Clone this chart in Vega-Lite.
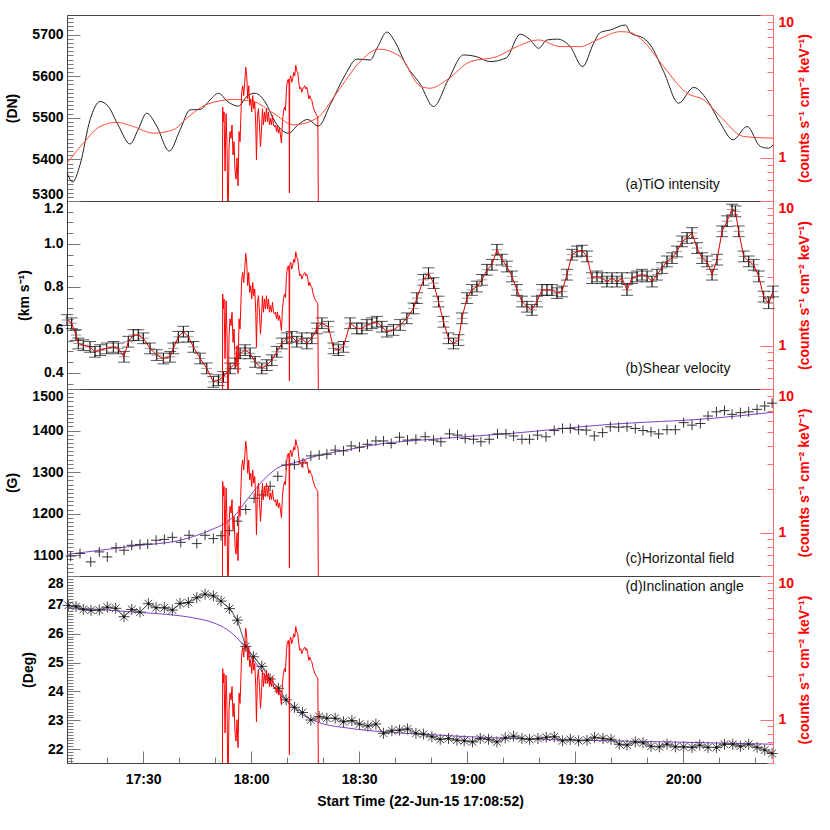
{
"$schema": "https://vega.github.io/schema/vega-lite/v6.json",
"background": "white",
"padding": {"left": 5, "top": 10, "right": 5, "bottom": 5},
"spacing": 0,
"bounds": "flush",
"config": {"font": "Liberation Sans", "view": {"stroke": "#444", "strokeWidth": 1}, "axis": {"grid": false, "labelFont": "Liberation Sans", "titleFont": "Liberation Sans"}},
"datasets": {
"tio": [{"t":8.87,"v":5367},{"t":10.45,"v":5346},{"t":12.48,"v":5387},{"t":15.26,"v":5495},{"t":18.03,"v":5539},{"t":20.26,"v":5528},{"t":23.03,"v":5483},{"t":26.37,"v":5437},{"t":28.59,"v":5471},{"t":31.0,"v":5511},{"t":33.59,"v":5483},{"t":37.28,"v":5420},{"t":40.26,"v":5471},{"t":43.03,"v":5519},{"t":45.81,"v":5520},{"t":48.59,"v":5543},{"t":50.9,"v":5559},{"t":53.59,"v":5538},{"t":56.45,"v":5528},{"t":58.87,"v":5552},{"t":61.09,"v":5559},{"t":63.87,"v":5538},{"t":66.65,"v":5490},{"t":70.34,"v":5463},{"t":73.03,"v":5483},{"t":75.62,"v":5496},{"t":78.67,"v":5480},{"t":81.92,"v":5531},{"t":86.09,"v":5603},{"t":89.34,"v":5641},{"t":93.03,"v":5639},{"t":94.98,"v":5668},{"t":97.67,"v":5706},{"t":99.98,"v":5682},{"t":102.76,"v":5631},{"t":106.92,"v":5581},{"t":110.62,"v":5527},{"t":114.7,"v":5591},{"t":118.95,"v":5651},{"t":122.48,"v":5647},{"t":126.37,"v":5635},{"t":130.81,"v":5644},{"t":134.7,"v":5701},{"t":137.48,"v":5687},{"t":139.8,"v":5667},{"t":142.12,"v":5687},{"t":144.98,"v":5689},{"t":148.59,"v":5671},{"t":152.0,"v":5623},{"t":155.06,"v":5679},{"t":156.92,"v":5705},{"t":159.7,"v":5711},{"t":163.87,"v":5723},{"t":165.26,"v":5704},{"t":168.95,"v":5691},{"t":170.81,"v":5675},{"t":174.51,"v":5611},{"t":178.67,"v":5535},{"t":182.84,"v":5573},{"t":186.56,"v":5543},{"t":190.26,"v":5487},{"t":193.78,"v":5447},{"t":197.67,"v":5479},{"t":201.37,"v":5431},{"t":203.67,"v":5427},{"t":204.87,"v":5435}],
"tios": [{"t":8.87,"v":5391},{"t":13.4,"v":5439},{"t":18.03,"v":5479},{"t":22.67,"v":5489},{"t":27.28,"v":5479},{"t":32.84,"v":5463},{"t":38.4,"v":5471},{"t":42.12,"v":5499},{"t":47.67,"v":5532},{"t":55.06,"v":5544},{"t":60.62,"v":5539},{"t":66.17,"v":5511},{"t":71.73,"v":5483},{"t":78.23,"v":5499},{"t":83.78,"v":5560},{"t":90.26,"v":5635},{"t":95.34,"v":5665},{"t":101.37,"v":5647},{"t":106.92,"v":5576},{"t":109.7,"v":5571},{"t":114.34,"v":5591},{"t":120.81,"v":5635},{"t":128.23,"v":5647},{"t":133.78,"v":5671},{"t":139.78,"v":5687},{"t":145.81,"v":5671},{"t":151.37,"v":5671},{"t":156.0,"v":5687},{"t":162.48,"v":5707},{"t":165.26,"v":5705},{"t":168.95,"v":5683},{"t":174.51,"v":5623},{"t":181.0,"v":5559},{"t":185.62,"v":5543},{"t":190.26,"v":5503},{"t":196.73,"v":5455},{"t":204.87,"v":5451}],
"hxr": [{"t":52.0,"c":0.3},{"t":52.09,"c":2.27},{"t":52.28,"c":1.8},{"t":52.46,"c":2.1},{"t":52.74,"c":0.81},{"t":53.02,"c":2.04},{"t":53.3,"c":1.2},{"t":53.57,"c":0.3},{"t":53.85,"c":1.17},{"t":54.13,"c":1.53},{"t":54.41,"c":1.37},{"t":54.68,"c":1.7},{"t":54.96,"c":1.05},{"t":55.24,"c":1.3},{"t":55.52,"c":0.81},{"t":55.8,"c":0.71},{"t":56.07,"c":1.0},{"t":56.35,"c":0.64},{"t":56.63,"c":1.53},{"t":56.91,"c":1.3},{"t":57.09,"c":1.79},{"t":57.37,"c":2.88},{"t":57.65,"c":3.2},{"t":57.93,"c":2.73},{"t":58.21,"c":3.38},{"t":58.48,"c":4.33},{"t":58.76,"c":3.76},{"t":59.04,"c":2.59},{"t":59.32,"c":3.2},{"t":59.6,"c":2.33},{"t":59.87,"c":2.59},{"t":60.15,"c":2.1},{"t":60.43,"c":2.73},{"t":60.71,"c":2.21},{"t":60.99,"c":2.46},{"t":61.27,"c":1.7},{"t":61.46,"c":0.97},{"t":61.74,"c":1.99},{"t":62.02,"c":2.21},{"t":62.3,"c":1.7},{"t":62.58,"c":1.2},{"t":62.85,"c":1.53},{"t":63.13,"c":2.21},{"t":63.41,"c":1.7},{"t":63.69,"c":2.1},{"t":63.97,"c":1.79},{"t":64.25,"c":2.21},{"t":64.53,"c":1.79},{"t":64.81,"c":2.1},{"t":65.08,"c":1.7},{"t":65.36,"c":1.89},{"t":65.64,"c":1.7},{"t":65.92,"c":1.99},{"t":66.2,"c":1.7},{"t":66.48,"c":1.65},{"t":66.76,"c":1.7},{"t":67.04,"c":1.53},{"t":67.28,"c":1.7},{"t":67.56,"c":1.49},{"t":67.84,"c":1.61},{"t":68.13,"c":1.45},{"t":68.4,"c":1.27},{"t":68.68,"c":1.79},{"t":68.96,"c":2.1},{"t":69.24,"c":2.27},{"t":69.52,"c":2.15},{"t":69.8,"c":3.04},{"t":70.06,"c":3.47},{"t":70.33,"c":3.56},{"t":70.52,"c":3.2},{"t":70.61,"c":0.57},{"t":70.7,"c":3.56},{"t":70.98,"c":3.76},{"t":71.26,"c":3.38},{"t":71.54,"c":3.6},{"t":71.82,"c":3.96},{"t":72.1,"c":3.76},{"t":72.38,"c":4.45},{"t":72.65,"c":4.07},{"t":72.93,"c":3.96},{"t":73.21,"c":3.38},{"t":73.49,"c":3.04},{"t":73.77,"c":3.12},{"t":74.05,"c":2.88},{"t":74.33,"c":3.04},{"t":74.6,"c":3.12},{"t":74.88,"c":3.2},{"t":75.16,"c":3.04},{"t":75.44,"c":3.12},{"t":75.72,"c":2.88},{"t":76.0,"c":2.59},{"t":76.27,"c":2.73},{"t":76.55,"c":2.59},{"t":76.83,"c":2.53},{"t":77.11,"c":2.33},{"t":77.39,"c":2.21},{"t":77.67,"c":2.1},{"t":77.95,"c":2.04},{"t":78.22,"c":1.99},{"t":78.5,"c":1.94},{"t":78.68,"c":0.3}],
"shear": [{"t":8.9,"v":0.646,"e":0.025},{"t":10.17,"v":0.631,"e":0.025},{"t":11.37,"v":0.576,"e":0.025},{"t":12.01,"v":0.537,"e":0.025},{"t":13.39,"v":0.529,"e":0.025},{"t":15.26,"v":0.521,"e":0.025},{"t":16.64,"v":0.498,"e":0.025},{"t":18.03,"v":0.506,"e":0.025},{"t":19.89,"v":0.514,"e":0.025},{"t":21.73,"v":0.521,"e":0.025},{"t":23.12,"v":0.514,"e":0.025},{"t":24.7,"v":0.475,"e":0.025},{"t":25.89,"v":0.545,"e":0.025},{"t":27.28,"v":0.576,"e":0.025},{"t":28.67,"v":0.576,"e":0.025},{"t":30.06,"v":0.561,"e":0.025},{"t":31.92,"v":0.514,"e":0.025},{"t":33.78,"v":0.483,"e":0.025},{"t":35.62,"v":0.467,"e":0.025},{"t":37.48,"v":0.475,"e":0.025},{"t":38.39,"v":0.514,"e":0.025},{"t":39.78,"v":0.568,"e":0.025},{"t":41.17,"v":0.592,"e":0.025},{"t":42.56,"v":0.568,"e":0.025},{"t":43.95,"v":0.521,"e":0.025},{"t":45.81,"v":0.467,"e":0.025},{"t":47.67,"v":0.421,"e":0.025},{"t":49.51,"v":0.358,"e":0.025},{"t":50.9,"v":0.366,"e":0.025},{"t":52.28,"v":0.381,"e":0.025},{"t":54.14,"v":0.421,"e":0.025},{"t":55.53,"v":0.444,"e":0.025},{"t":56.92,"v":0.491,"e":0.025},{"t":58.31,"v":0.506,"e":0.025},{"t":59.7,"v":0.491,"e":0.025},{"t":61.09,"v":0.451,"e":0.025},{"t":62.95,"v":0.421,"e":0.025},{"t":64.34,"v":0.436,"e":0.025},{"t":65.73,"v":0.459,"e":0.025},{"t":67.12,"v":0.498,"e":0.025},{"t":68.51,"v":0.537,"e":0.025},{"t":69.9,"v":0.561,"e":0.025},{"t":71.28,"v":0.568,"e":0.025},{"t":72.67,"v":0.545,"e":0.025},{"t":74.06,"v":0.561,"e":0.025},{"t":75.45,"v":0.537,"e":0.025},{"t":76.84,"v":0.561,"e":0.025},{"t":78.23,"v":0.607,"e":0.025},{"t":79.62,"v":0.631,"e":0.025},{"t":81.45,"v":0.615,"e":0.025},{"t":82.84,"v":0.514,"e":0.025},{"t":84.23,"v":0.506,"e":0.025},{"t":85.62,"v":0.521,"e":0.025},{"t":87.48,"v":0.631,"e":0.025},{"t":89.34,"v":0.607,"e":0.025},{"t":90.73,"v":0.607,"e":0.025},{"t":92.12,"v":0.623,"e":0.025},{"t":93.51,"v":0.631,"e":0.025},{"t":94.89,"v":0.638,"e":0.025},{"t":96.28,"v":0.615,"e":0.025},{"t":97.67,"v":0.592,"e":0.025},{"t":99.51,"v":0.6,"e":0.025},{"t":101.37,"v":0.623,"e":0.025},{"t":103.23,"v":0.654,"e":0.025},{"t":105.06,"v":0.7,"e":0.025},{"t":106.0,"v":0.748,"e":0.025},{"t":107.84,"v":0.833,"e":0.025},{"t":109.23,"v":0.864,"e":0.025},{"t":110.62,"v":0.818,"e":0.025},{"t":112.0,"v":0.732,"e":0.025},{"t":113.39,"v":0.638,"e":0.025},{"t":114.78,"v":0.561,"e":0.025},{"t":116.17,"v":0.537,"e":0.025},{"t":117.56,"v":0.553,"e":0.025},{"t":118.5,"v":0.654,"e":0.025},{"t":119.9,"v":0.748,"e":0.025},{"t":121.28,"v":0.786,"e":0.025},{"t":122.67,"v":0.802,"e":0.025},{"t":124.06,"v":0.833,"e":0.025},{"t":125.45,"v":0.88,"e":0.025},{"t":126.84,"v":0.903,"e":0.025},{"t":128.23,"v":0.973,"e":0.025},{"t":129.62,"v":0.927,"e":0.025},{"t":131.0,"v":0.895,"e":0.025},{"t":132.4,"v":0.849,"e":0.025},{"t":133.78,"v":0.786,"e":0.025},{"t":135.17,"v":0.732,"e":0.025},{"t":136.56,"v":0.708,"e":0.025},{"t":137.95,"v":0.693,"e":0.025},{"t":139.34,"v":0.732,"e":0.025},{"t":140.73,"v":0.786,"e":0.025},{"t":142.12,"v":0.786,"e":0.025},{"t":143.5,"v":0.786,"e":0.025},{"t":144.9,"v":0.771,"e":0.025},{"t":146.28,"v":0.779,"e":0.025},{"t":147.67,"v":0.857,"e":0.025},{"t":149.06,"v":0.95,"e":0.025},{"t":150.45,"v":0.965,"e":0.025},{"t":151.84,"v":0.969,"e":0.025},{"t":153.23,"v":0.942,"e":0.025},{"t":154.62,"v":0.841,"e":0.025},{"t":156.0,"v":0.849,"e":0.025},{"t":157.4,"v":0.841,"e":0.025},{"t":158.78,"v":0.825,"e":0.025},{"t":160.17,"v":0.841,"e":0.025},{"t":161.56,"v":0.825,"e":0.025},{"t":162.95,"v":0.841,"e":0.025},{"t":164.34,"v":0.786,"e":0.025},{"t":165.73,"v":0.841,"e":0.025},{"t":167.12,"v":0.849,"e":0.025},{"t":168.5,"v":0.857,"e":0.025},{"t":169.9,"v":0.849,"e":0.025},{"t":171.28,"v":0.825,"e":0.025},{"t":172.67,"v":0.857,"e":0.025},{"t":174.06,"v":0.888,"e":0.025},{"t":175.45,"v":0.919,"e":0.025},{"t":176.84,"v":0.934,"e":0.025},{"t":178.23,"v":0.965,"e":0.025},{"t":179.62,"v":1.012,"e":0.025},{"t":181.0,"v":1.028,"e":0.025},{"t":182.4,"v":1.051,"e":0.025},{"t":183.78,"v":0.981,"e":0.025},{"t":185.17,"v":0.934,"e":0.025},{"t":186.56,"v":0.919,"e":0.025},{"t":187.95,"v":0.857,"e":0.025},{"t":189.34,"v":0.927,"e":0.025},{"t":190.73,"v":1.059,"e":0.025},{"t":192.12,"v":1.106,"e":0.025},{"t":193.51,"v":1.16,"e":0.025},{"t":194.42,"v":1.152,"e":0.025},{"t":195.34,"v":1.059,"e":0.025},{"t":196.73,"v":0.942,"e":0.025},{"t":198.12,"v":0.919,"e":0.025},{"t":199.51,"v":0.903,"e":0.025},{"t":200.9,"v":0.849,"e":0.025},{"t":202.28,"v":0.755,"e":0.025},{"t":203.67,"v":0.724,"e":0.025},{"t":204.87,"v":0.779,"e":0.025}],
"bh": [{"t":9.89,"v":1098},{"t":12.48,"v":1104},{"t":15.45,"v":1084},{"t":17.84,"v":1108},{"t":20.06,"v":1096},{"t":22.48,"v":1118},{"t":24.7,"v":1112},{"t":26.84,"v":1124},{"t":29.14,"v":1126},{"t":31.28,"v":1127},{"t":33.59,"v":1136},{"t":35.89,"v":1138},{"t":38.12,"v":1143},{"t":40.45,"v":1131},{"t":42.76,"v":1148},{"t":44.9,"v":1128},{"t":47.2,"v":1148},{"t":49.51,"v":1140},{"t":51.64,"v":1147},{"t":53.95,"v":1159},{"t":56.17,"v":1182},{"t":58.51,"v":1210},{"t":60.81,"v":1237},{"t":62.95,"v":1245},{"t":65.26,"v":1266},{"t":67.39,"v":1290},{"t":69.7,"v":1317},{"t":72.01,"v":1318},{"t":74.34,"v":1322},{"t":76.56,"v":1339},{"t":78.87,"v":1341},{"t":81.01,"v":1343},{"t":83.31,"v":1353},{"t":85.62,"v":1351},{"t":87.76,"v":1363},{"t":90.06,"v":1360},{"t":92.28,"v":1367},{"t":94.62,"v":1375},{"t":96.73,"v":1375},{"t":98.87,"v":1369},{"t":101.17,"v":1384},{"t":103.4,"v":1377},{"t":105.73,"v":1379},{"t":108.31,"v":1385},{"t":110.62,"v":1377},{"t":112.67,"v":1373},{"t":115.06,"v":1392},{"t":117.28,"v":1389},{"t":119.42,"v":1381},{"t":121.73,"v":1379},{"t":123.78,"v":1373},{"t":126.09,"v":1379},{"t":128.39,"v":1392},{"t":130.73,"v":1392},{"t":132.84,"v":1387},{"t":135.17,"v":1379},{"t":137.28,"v":1379},{"t":139.51,"v":1389},{"t":141.84,"v":1385},{"t":144.14,"v":1400},{"t":146.45,"v":1405},{"t":148.59,"v":1405},{"t":150.9,"v":1402},{"t":153.03,"v":1401},{"t":155.26,"v":1387},{"t":157.56,"v":1395},{"t":159.7,"v":1409},{"t":162.01,"v":1408},{"t":164.34,"v":1409},{"t":166.64,"v":1405},{"t":168.78,"v":1400},{"t":171.01,"v":1397},{"t":173.12,"v":1392},{"t":175.45,"v":1402},{"t":177.76,"v":1402},{"t":180.06,"v":1419},{"t":182.4,"v":1413},{"t":184.7,"v":1417},{"t":186.84,"v":1435},{"t":189.17,"v":1445},{"t":191.39,"v":1448},{"t":193.51,"v":1439},{"t":195.81,"v":1443},{"t":198.12,"v":1445},{"t":200.45,"v":1451},{"t":202.56,"v":1459},{"t":204.62,"v":1466}],
"bhfit": [{"t":8.87,"v":1102},{"t":27.28,"v":1122},{"t":41.17,"v":1138},{"t":48.59,"v":1160},{"t":53.23,"v":1180},{"t":55.06,"v":1192},{"t":58.78,"v":1233},{"t":63.4,"v":1281},{"t":67.12,"v":1309},{"t":71.73,"v":1322},{"t":78.23,"v":1339},{"t":87.48,"v":1355},{"t":96.73,"v":1369},{"t":106.92,"v":1377},{"t":131.92,"v":1393},{"t":159.7,"v":1415},{"t":187.5,"v":1429},{"t":204.87,"v":1444}],
"inc": [{"t":9.23,"v":26.98},{"t":11.37,"v":26.94},{"t":13.39,"v":26.84},{"t":15.53,"v":26.81},{"t":17.84,"v":26.82},{"t":20.06,"v":26.92},{"t":22.4,"v":26.88},{"t":24.7,"v":26.59},{"t":26.84,"v":26.84},{"t":29.14,"v":26.75},{"t":31.45,"v":27.04},{"t":33.59,"v":26.9},{"t":35.89,"v":26.9},{"t":38.12,"v":26.82},{"t":40.26,"v":27.05},{"t":42.56,"v":27.08},{"t":44.9,"v":27.25},{"t":47.2,"v":27.37},{"t":49.51,"v":27.31},{"t":51.64,"v":27.13},{"t":53.95,"v":26.87},{"t":56.17,"v":26.47},{"t":58.51,"v":25.56},{"t":60.62,"v":25.2},{"t":62.95,"v":24.87},{"t":65.26,"v":24.43},{"t":67.56,"v":24.11},{"t":69.7,"v":23.71},{"t":72.01,"v":23.45},{"t":74.23,"v":23.27},{"t":76.56,"v":23.01},{"t":78.87,"v":23.13},{"t":81.01,"v":23.07},{"t":83.31,"v":23.07},{"t":85.62,"v":22.95},{"t":87.95,"v":22.99},{"t":90.06,"v":22.87},{"t":92.39,"v":22.8},{"t":94.62,"v":22.87},{"t":96.73,"v":22.55},{"t":99.06,"v":22.64},{"t":101.17,"v":22.66},{"t":103.4,"v":22.7},{"t":105.73,"v":22.55},{"t":107.84,"v":22.52},{"t":110.17,"v":22.43},{"t":112.48,"v":22.34},{"t":114.78,"v":22.37},{"t":117.12,"v":22.31},{"t":119.14,"v":22.29},{"t":121.45,"v":22.25},{"t":123.59,"v":22.37},{"t":125.89,"v":22.34},{"t":128.23,"v":22.25},{"t":130.53,"v":22.39},{"t":132.84,"v":22.45},{"t":135.17,"v":22.37},{"t":137.28,"v":22.34},{"t":139.62,"v":22.37},{"t":141.92,"v":22.41},{"t":144.14,"v":22.43},{"t":146.45,"v":22.29},{"t":148.59,"v":22.34},{"t":150.9,"v":22.29},{"t":153.23,"v":22.31},{"t":155.34,"v":22.41},{"t":157.67,"v":22.37},{"t":159.9,"v":22.34},{"t":162.2,"v":22.17},{"t":164.34,"v":22.14},{"t":166.64,"v":22.25},{"t":168.78,"v":22.22},{"t":171.01,"v":22.1},{"t":173.31,"v":22.08},{"t":175.45,"v":22.17},{"t":177.76,"v":22.08},{"t":180.06,"v":22.08},{"t":182.4,"v":22.06},{"t":184.51,"v":22.14},{"t":186.84,"v":22.06},{"t":189.17,"v":22.06},{"t":191.39,"v":22.17},{"t":193.7,"v":22.17},{"t":195.81,"v":22.1},{"t":198.12,"v":22.17},{"t":200.45,"v":22.06},{"t":202.56,"v":21.97},{"t":204.62,"v":21.85}],
"incfit": [{"t":8.87,"v":26.9},{"t":18.03,"v":26.84},{"t":27.28,"v":26.75},{"t":36.56,"v":26.67},{"t":43.95,"v":26.55},{"t":49.51,"v":26.38},{"t":53.23,"v":26.15},{"t":56.92,"v":25.74},{"t":60.62,"v":25.1},{"t":64.34,"v":24.46},{"t":68.95,"v":23.77},{"t":73.59,"v":23.24},{"t":78.23,"v":22.95},{"t":87.48,"v":22.72},{"t":96.73,"v":22.6},{"t":106.92,"v":22.52},{"t":131.92,"v":22.37},{"t":159.7,"v":22.29},{"t":187.48,"v":22.22},{"t":204.87,"v":22.17}]
},
"vconcat": [
{
"width": 706, "height": 186,
"layer": [
{
"encoding": {
"x": {"field": "t", "type": "quantitative", "scale": {"domain": [8.867, 204.867], "nice": false, "zero": false}, "axis": null},
"y": {"field": "v", "type": "quantitative", "scale": {"domain": [5300, 5747], "nice": false, "zero": false}, "axis": {"orient": "left", "values": [5300,5310,5320,5330,5340,5350,5360,5370,5380,5390,5400,5410,5420,5430,5440,5450,5460,5470,5480,5490,5500,5510,5520,5530,5540,5550,5560,5570,5580,5590,5600,5610,5620,5630,5640,5650,5660,5670,5680,5690,5700,5710,5720,5730,5740], "labelExpr": "datum.value % 100 === 0 ? format(datum.value, 'd') : ''", "tickSize": {"condition": {"test": "datum.value % 100 === 0", "value": -13}, "value": -6}, "tickColor": "#777", "domainColor": "#444", "labelFontSize": 14, "labelFontWeight": "bold", "labelColor": "#000", "labelPadding": 17, "labelFlush": true, "labelOverlap": false, "title": "(DN)", "titleFontSize": 14, "titleFontWeight": "bold", "titleColor": "#000", "titlePadding": 12}}
},
"layer": [
{"data": {"name": "tio"}, "mark": {"type": "line", "color": "#222", "strokeWidth": 1, "interpolate": "monotone"}},
{"data": {"name": "tios"}, "mark": {"type": "line", "color": "#ff4a3a", "strokeWidth": 1, "interpolate": "monotone"}}
]
},
{
"data": {"name": "hxr"},
"mark": {"type": "line", "color": "#ff0000", "strokeWidth": 1, "clip": true},
"encoding": {
"x": {"field": "t", "type": "quantitative", "scale": {"domain": [8.867, 204.867], "nice": false, "zero": false}, "axis": null},
"y": {"field": "c", "type": "quantitative", "scale": {"type": "log", "domain": [0.5, 10], "nice": false}, "axis": {"orient": "right", "values": [0.5,0.6,0.7,0.8,0.9,1,2,3,4,5,6,7,8,9,10], "labelExpr": "datum.value == 1 ? '1' : datum.value == 10 ? '10' : ''", "tickSize": {"condition": {"test": "datum.value == 1 || datum.value == 10", "value": -13}, "value": -6}, "tickColor": "#ff7070", "domainColor": "#ff7070", "labelColor": "#ff0000", "labelFontWeight": "bold", "labelFontSize": 14, "labelPadding": 18, "labelFlush": true, "labelOverlap": false, "title": "(counts s⁻¹ cm⁻² keV⁻¹)", "titleColor": "#ff0000", "titleFontWeight": "bold", "titleFontSize": 14, "titleAngle": 270, "titleBaseline": "top", "titlePadding": 4}}
}
},
{
"data": {"values": [{}]},
"mark": {"type": "text", "text": "(a)TiO intensity", "align": "left", "baseline": "middle", "fontSize": 14, "color": "#111"},
"encoding": {
"x": {"datum": 163.9, "type": "quantitative", "scale": {"domain": [8.867, 204.867], "nice": false, "zero": false}, "axis": null},
"y": {"datum": 5338, "type": "quantitative", "scale": {"domain": [5300, 5747], "nice": false, "zero": false}, "axis": null}
}
}
],
"resolve": {"scale": {"y": "independent"}}
},
{
"width": 706, "height": 188,
"layer": [
{
"data": {"name": "shear"},
"encoding": {
"x": {"field": "t", "type": "quantitative", "scale": {"domain": [8.867, 204.867], "nice": false, "zero": false}, "axis": null},
"y": {"field": "v", "type": "quantitative", "scale": {"domain": [0.325, 1.2], "nice": false, "zero": false}, "axis": {"orient": "left", "values": [0.35,0.4,0.45,0.5,0.55,0.6,0.65,0.7,0.75,0.8,0.85,0.9,0.95,1,1.05,1.1,1.15,1.2], "labelExpr": "abs(datum.value*5 - round(datum.value*5)) < 0.01 ? format(datum.value, '.1f') : ''", "tickSize": {"condition": {"test": "abs(datum.value*5 - round(datum.value*5)) < 0.01", "value": -13}, "value": -6}, "tickColor": "#777", "domainColor": "#444", "labelFontSize": 14, "labelFontWeight": "bold", "labelColor": "#000", "labelPadding": 17, "labelFlush": true, "labelOverlap": false, "title": "(km s⁻¹)", "titleFontSize": 14, "titleFontWeight": "bold", "titleColor": "#000", "titlePadding": 12}}
},
"layer": [
{"mark": {"type": "point", "shape": "M-1,0L1,0M0,-1L0,1", "filled": false, "stroke": "#999", "strokeWidth": 1, "size": 110, "opacity": 1}},
{"mark": {"type": "errorbar", "ticks": {"size": 12, "color": "#111"}, "color": "#111", "thickness": 1}, "encoding": {"yError": {"field": "e"}}},
{"mark": {"type": "line", "color": "#e00000", "strokeWidth": 1}}
]
},
{
"data": {"name": "hxr"},
"mark": {"type": "line", "color": "#ff0000", "strokeWidth": 1, "clip": true},
"encoding": {
"x": {"field": "t", "type": "quantitative", "scale": {"domain": [8.867, 204.867], "nice": false, "zero": false}, "axis": null},
"y": {"field": "c", "type": "quantitative", "scale": {"type": "log", "domain": [0.5, 10], "nice": false}, "axis": {"orient": "right", "values": [0.5,0.6,0.7,0.8,0.9,1,2,3,4,5,6,7,8,9,10], "labelExpr": "datum.value == 1 ? '1' : datum.value == 10 ? '10' : ''", "tickSize": {"condition": {"test": "datum.value == 1 || datum.value == 10", "value": -13}, "value": -6}, "tickColor": "#ff7070", "domainColor": "#ff7070", "labelColor": "#ff0000", "labelFontWeight": "bold", "labelFontSize": 14, "labelPadding": 18, "labelFlush": true, "labelOverlap": false, "title": "(counts s⁻¹ cm⁻² keV⁻¹)", "titleColor": "#ff0000", "titleFontWeight": "bold", "titleFontSize": 14, "titleAngle": 270, "titleBaseline": "top", "titlePadding": 4}}
}
},
{
"data": {"values": [{}]},
"mark": {"type": "text", "text": "(b)Shear velocity", "align": "left", "baseline": "middle", "fontSize": 14, "color": "#111"},
"encoding": {
"x": {"datum": 163.9, "type": "quantitative", "scale": {"domain": [8.867, 204.867], "nice": false, "zero": false}, "axis": null},
"y": {"datum": 0.42, "type": "quantitative", "scale": {"domain": [0.325, 1.2], "nice": false, "zero": false}, "axis": null}
}
}
],
"resolve": {"scale": {"y": "independent"}}
},
{
"width": 706, "height": 187,
"layer": [
{
"encoding": {
"x": {"field": "t", "type": "quantitative", "scale": {"domain": [8.867, 204.867], "nice": false, "zero": false}, "axis": null},
"y": {"field": "v", "type": "quantitative", "scale": {"domain": [1050, 1500], "nice": false, "zero": false}, "axis": {"orient": "left", "values": [1050,1060,1070,1080,1090,1100,1110,1120,1130,1140,1150,1160,1170,1180,1190,1200,1210,1220,1230,1240,1250,1260,1270,1280,1290,1300,1310,1320,1330,1340,1350,1360,1370,1380,1390,1400,1410,1420,1430,1440,1450,1460,1470,1480,1490,1500], "labelExpr": "datum.value % 100 === 0 ? format(datum.value, 'd') : ''", "tickSize": {"condition": {"test": "datum.value % 100 === 0", "value": -13}, "value": -6}, "tickColor": "#777", "domainColor": "#444", "labelFontSize": 14, "labelFontWeight": "bold", "labelColor": "#000", "labelPadding": 17, "labelFlush": true, "labelOverlap": false, "title": "(G)", "titleFontSize": 14, "titleFontWeight": "bold", "titleColor": "#000", "titlePadding": 12}}
},
"layer": [
{"data": {"name": "bhfit"}, "mark": {"type": "line", "color": "#7f40c8", "strokeWidth": 1, "interpolate": "monotone"}},
{"data": {"name": "bh"}, "mark": {"type": "point", "shape": "M-1,0L1,0M0,-1L0,1", "filled": false, "stroke": "#333", "strokeWidth": 1, "size": 100, "opacity": 1}}
]
},
{
"data": {"name": "hxr"},
"mark": {"type": "line", "color": "#ff0000", "strokeWidth": 1, "clip": true},
"encoding": {
"x": {"field": "t", "type": "quantitative", "scale": {"domain": [8.867, 204.867], "nice": false, "zero": false}, "axis": null},
"y": {"field": "c", "type": "quantitative", "scale": {"type": "log", "domain": [0.5, 10], "nice": false}, "axis": {"orient": "right", "values": [0.5,0.6,0.7,0.8,0.9,1,2,3,4,5,6,7,8,9,10], "labelExpr": "datum.value == 1 ? '1' : datum.value == 10 ? '10' : ''", "tickSize": {"condition": {"test": "datum.value == 1 || datum.value == 10", "value": -13}, "value": -6}, "tickColor": "#ff7070", "domainColor": "#ff7070", "labelColor": "#ff0000", "labelFontWeight": "bold", "labelFontSize": 14, "labelPadding": 18, "labelFlush": true, "labelOverlap": false, "title": "(counts s⁻¹ cm⁻² keV⁻¹)", "titleColor": "#ff0000", "titleFontWeight": "bold", "titleFontSize": 14, "titleAngle": 270, "titleBaseline": "top", "titlePadding": 4}}
}
},
{
"data": {"values": [{}]},
"mark": {"type": "text", "text": "(c)Horizontal field", "align": "left", "baseline": "middle", "fontSize": 14, "color": "#111"},
"encoding": {
"x": {"datum": 163.9, "type": "quantitative", "scale": {"domain": [8.867, 204.867], "nice": false, "zero": false}, "axis": null},
"y": {"datum": 1090, "type": "quantitative", "scale": {"domain": [1050, 1500], "nice": false, "zero": false}, "axis": null}
}
}
],
"resolve": {"scale": {"y": "independent"}}
},
{
"width": 706, "height": 187,
"layer": [
{
"encoding": {
"x": {"field": "t", "type": "quantitative", "scale": {"domain": [8.867, 204.867], "nice": false, "zero": false}, "axis": {"values": [10,20,30,40,50,60,70,80,90,100,110,120,130,140,150,160,170,180,190,200], "labelExpr": "datum.value % 30 === 0 ? (17 + floor(datum.value / 60)) + ':' + (datum.value % 60 === 0 ? '00' : '30') : ''", "tickSize": {"condition": {"test": "datum.value % 30 === 0", "value": -12}, "value": -6}, "tickColor": "#777", "domainColor": "#444", "labelFontSize": 14, "labelFontWeight": "bold", "labelColor": "#000", "labelPadding": 21, "labelOverlap": false, "labelFlush": false, "title": "Start Time (22-Jun-15 17:08:52)", "titleFontSize": 14, "titleFontWeight": "bold", "titleColor": "#000", "titlePadding": 2}},
"y": {"field": "v", "type": "quantitative", "scale": {"domain": [21.52, 28], "nice": false, "zero": false}, "axis": {"orient": "left", "values": [21.6,21.7,21.8,21.9,22,22.1,22.2,22.3,22.4,22.5,22.6,22.7,22.8,22.9,23,23.1,23.2,23.3,23.4,23.5,23.6,23.7,23.8,23.9,24,24.1,24.2,24.3,24.4,24.5,24.6,24.7,24.8,24.9,25,25.1,25.2,25.3,25.4,25.5,25.6,25.7,25.8,25.9,26,26.1,26.2,26.3,26.4,26.5,26.6,26.7,26.8,26.9,27,27.1,27.2,27.3,27.4,27.5,27.6,27.7,27.8,27.9,28], "labelExpr": "abs(datum.value - round(datum.value)) < 0.01 ? format(round(datum.value), 'd') : ''", "tickSize": {"condition": {"test": "abs(datum.value - round(datum.value)) < 0.01", "value": -13}, "value": -6}, "tickColor": "#777", "domainColor": "#444", "labelFontSize": 14, "labelFontWeight": "bold", "labelColor": "#000", "labelPadding": 17, "labelFlush": true, "labelOverlap": false, "title": "(Deg)", "titleFontSize": 14, "titleFontWeight": "bold", "titleColor": "#000", "titlePadding": 12}}
},
"layer": [
{"data": {"name": "incfit"}, "mark": {"type": "line", "color": "#7f40c8", "strokeWidth": 1, "interpolate": "monotone"}},
{"data": {"name": "inc"}, "mark": {"type": "line", "color": "#222", "strokeWidth": 0.8}},
{"data": {"name": "inc"}, "mark": {"type": "point", "shape": "M-1,0L1,0M0,-1L0,1M-0.7,-0.7L0.7,0.7M-0.7,0.7L0.7,-0.7", "filled": false, "stroke": "#444", "strokeWidth": 1, "size": 121, "opacity": 1}},
{"data": {"name": "inc"}, "mark": {"type": "point", "shape": "circle", "filled": true, "color": "#000", "size": 5, "opacity": 1}}
]
},
{
"data": {"name": "hxr"},
"mark": {"type": "line", "color": "#ff0000", "strokeWidth": 1, "clip": true},
"encoding": {
"x": {"field": "t", "type": "quantitative", "scale": {"domain": [8.867, 204.867], "nice": false, "zero": false}, "axis": {"values": [10,20,30,40,50,60,70,80,90,100,110,120,130,140,150,160,170,180,190,200], "labelExpr": "datum.value % 30 === 0 ? (17 + floor(datum.value / 60)) + ':' + (datum.value % 60 === 0 ? '00' : '30') : ''", "tickSize": {"condition": {"test": "datum.value % 30 === 0", "value": -12}, "value": -6}, "tickColor": "#777", "domainColor": "#444", "labelFontSize": 14, "labelFontWeight": "bold", "labelColor": "#000", "labelPadding": 21, "labelOverlap": false, "labelFlush": false, "title": "Start Time (22-Jun-15 17:08:52)", "titleFontSize": 14, "titleFontWeight": "bold", "titleColor": "#000", "titlePadding": 2}},
"y": {"field": "c", "type": "quantitative", "scale": {"type": "log", "domain": [0.5, 10], "nice": false}, "axis": {"orient": "right", "values": [0.5,0.6,0.7,0.8,0.9,1,2,3,4,5,6,7,8,9,10], "labelExpr": "datum.value == 1 ? '1' : datum.value == 10 ? '10' : ''", "tickSize": {"condition": {"test": "datum.value == 1 || datum.value == 10", "value": -13}, "value": -6}, "tickColor": "#ff7070", "domainColor": "#ff7070", "labelColor": "#ff0000", "labelFontWeight": "bold", "labelFontSize": 14, "labelPadding": 18, "labelFlush": true, "labelOverlap": false, "title": "(counts s⁻¹ cm⁻² keV⁻¹)", "titleColor": "#ff0000", "titleFontWeight": "bold", "titleFontSize": 14, "titleAngle": 270, "titleBaseline": "top", "titlePadding": 4}}
}
},
{
"data": {"values": [{}]},
"mark": {"type": "text", "text": "(d)Inclination angle", "align": "left", "baseline": "middle", "fontSize": 14, "color": "#111"},
"encoding": {
"x": {"datum": 163.9, "type": "quantitative", "scale": {"domain": [8.867, 204.867], "nice": false, "zero": false}, "axis": {"values": [10,20,30,40,50,60,70,80,90,100,110,120,130,140,150,160,170,180,190,200], "labelExpr": "datum.value % 30 === 0 ? (17 + floor(datum.value / 60)) + ':' + (datum.value % 60 === 0 ? '00' : '30') : ''", "tickSize": {"condition": {"test": "datum.value % 30 === 0", "value": -12}, "value": -6}, "tickColor": "#777", "domainColor": "#444", "labelFontSize": 14, "labelFontWeight": "bold", "labelColor": "#000", "labelPadding": 21, "labelOverlap": false, "labelFlush": false, "title": "Start Time (22-Jun-15 17:08:52)", "titleFontSize": 14, "titleFontWeight": "bold", "titleColor": "#000", "titlePadding": 2}},
"y": {"datum": 27.63, "type": "quantitative", "scale": {"domain": [21.52, 28], "nice": false, "zero": false}, "axis": null}
}
}
],
"resolve": {"scale": {"y": "independent"}}
}
]
}
